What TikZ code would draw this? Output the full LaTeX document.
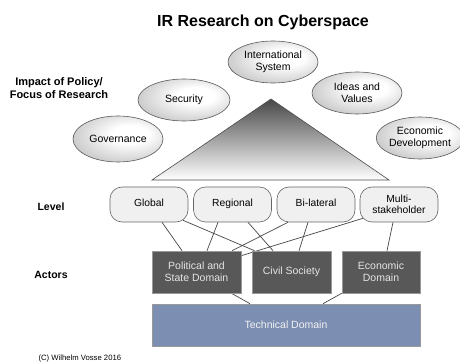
\documentclass[tikz,border=0pt]{standalone}
\usepackage{fontspec}
\setmainfont{Liberation Sans}
\usetikzlibrary{shapes.geometric,backgrounds}

\definecolor{actorfill}{HTML}{585858}
\definecolor{techfill}{HTML}{7D8EB3}
\definecolor{linegray}{HTML}{454545}
% soft light spot, a little up and to the right
\pgfdeclareradialshading{focusball}{\pgfpoint{8bp}{6bp}}{%
  color(0bp)=(white); color(10bp)=(white); color(30bp)=(black!20);
  color(50bp)=(black!44); color(70bp)=(black!50)}

\begin{document}
\begin{tikzpicture}[x=1pt,y=1pt,
  focus/.style={ellipse,draw=black!65,line width=0.6pt,inner sep=0pt,
    minimum width=90pt,minimum height=42pt,shading=focusball,
    align=center,font=\fontsize{10.5}{12}\selectfont},
  level/.style={draw=black!60,line width=0.6pt,fill=black!6,
    rounded corners=12pt,minimum width=78pt,minimum height=35pt,
    inner sep=0pt,align=center,text height=0.72em,text depth=0.22em,
    font=\fontsize{10.3}{11.5}\selectfont},
  actor/.style={draw=black!40,line width=0.6pt,fill=actorfill,
    text=black!10,minimum height=42pt,inner sep=0pt,align=center,
    font=\fontsize{10.5}{12}\selectfont},
  rowlabel/.style={align=center,font=\bfseries\fontsize{10.5}{12.5}\selectfont},
  link/.style={draw=linegray,line width=0.7pt}]
\useasboundingbox (0,0) rectangle (460,-363);

\node (title) at (263,-22) {\bfseries\fontsize{16}{18}\selectfont IR Research on Cyberspace};

% row labels
\node [rowlabel,font=\bfseries\fontsize{11}{12.5}\selectfont] (impact) at (59,-88) {Impact of Policy/\\Focus of Research};
\node [rowlabel] (levlab) at (51,-207) {Level};
\node [rowlabel] (actlab) at (51,-275) {Actors};

% focus of research
\node [focus] (intl) at (273,-62) {International\\System};
\node [focus,minimum width=92pt] (secu) at (184,-100) {Security};
\node [focus] (ideas) at (357,-93) {Ideas and\\Values};
\node [focus,minimum height=46pt] (gov) at (118,-139) {Governance};
\node [focus,minimum width=86pt] (econ) at (420,-138) {Economic\\Development};

% pyramid
\shade [top color=black!72,bottom color=white,draw=black!70,line width=0.6pt]
  (271,-99) -- (389,-180) -- (152,-180) -- cycle;

% levels
\node [level] (glob) at (149,-204.5) {Global};
\node [level] (reg) at (232.5,-204.5) {Regional};
\node [level] (bil) at (316,-204.5) {Bi-lateral};
\node [level,text height=,text depth=] (multi) at (399,-204.5) {Multi-\\stakeholder};

% actors
\node [actor,minimum width=89pt] (pol) at (196.5,-272) {Political and\\State Domain};
\node [actor,minimum width=79pt] (civ) at (291.5,-272) {Civil Society};
\node [actor,minimum width=78pt] (eco) at (381,-272) {Economic\\Domain};
\node [actor,fill=techfill,text=black!5,minimum width=268pt] (tech) at (286,-325) {Technical Domain};

\begin{scope}[on background layer]
\draw [link] ([xshift=13pt]glob.south) -- ([xshift=-14.5pt]pol.north);
\draw [link] ([xshift=34pt,yshift=2pt]glob.south) -- ([xshift=-37pt]civ.north);
\draw [link] ([xshift=-14.5pt]reg.south) -- ([xshift=10.5pt]pol.north);
\draw [link] ([xshift=15.5pt]reg.south) -- ([xshift=-18.5pt]civ.north);
\draw [link] ([xshift=-28pt]bil.south) -- ([xshift=35.5pt]pol.north);
\draw [link] ([xshift=-8pt]bil.south) -- ([xshift=7.5pt]civ.north);
\draw [link] ([xshift=-36pt,yshift=4pt]multi.south) -- ([yshift=-5pt]pol.north east);
\draw [link] ([xshift=-6pt]multi.south) -- ([xshift=6pt]eco.north);
\draw [link] ([xshift=35pt]pol.south) -- ([xshift=-36pt]tech.north);
\draw [link] (eco.south west) -- ([xshift=37pt]tech.north);
\end{scope}

\node [anchor=west] (copy) at (35,-359) {\fontsize{7.7}{9}\selectfont (C) Wilhelm Vosse 2016};
\end{tikzpicture}
\end{document}
